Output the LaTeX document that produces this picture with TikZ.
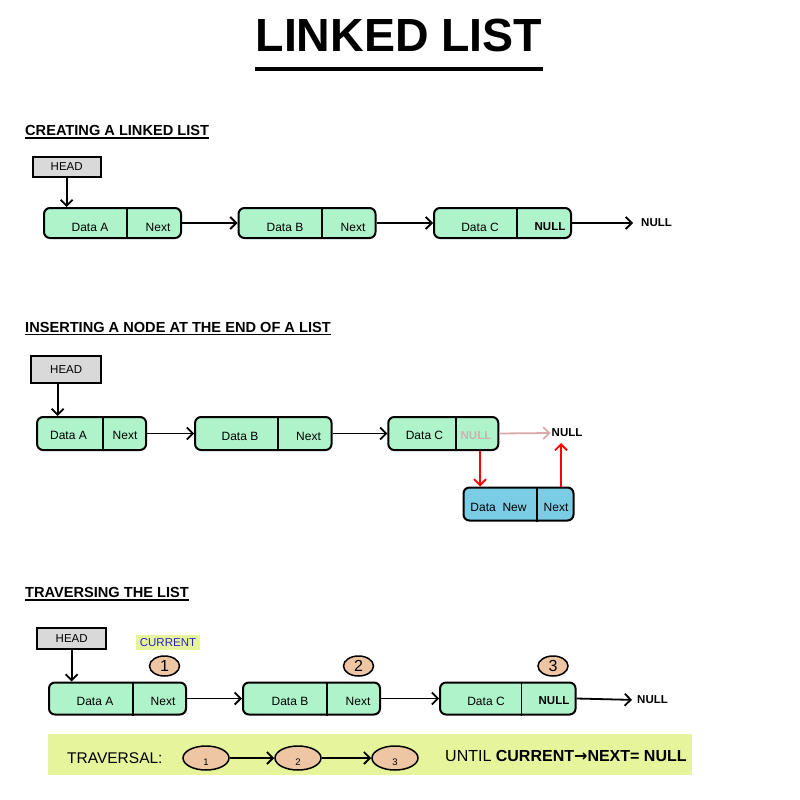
\documentclass[tikz,border=0pt]{standalone}
\usepackage{fontspec}
\setmainfont{Liberation Sans}
\newfontfamily\dejavu{DejaVu Sans}
\usetikzlibrary{arrows.meta,shapes.geometric}
\definecolor{mint}{HTML}{AEF3C9}
\definecolor{skyb}{HTML}{7BCDE6}
\definecolor{peach}{HTML}{EEC6A3}
\definecolor{lime}{HTML}{E6F59B}
\definecolor{headgray}{HTML}{D9D9D9}
\definecolor{pinkarr}{HTML}{D9AAAA}
\definecolor{pinktxt}{HTML}{CDB0B0}
\definecolor{curblue}{HTML}{2A22C8}
\begin{document}
\begin{tikzpicture}[x=1pt,y=-1pt,
  lbox/.style={draw=black, line width=2pt, rounded corners=6pt, inner sep=0pt, fill=mint},
  headbox/.style={draw=black, line width=2pt, fill=headgray, inner sep=0pt, font=\fontsize{11.5}{13}\selectfont},
  lbl/.style={font=\fontsize{12}{14}\selectfont, inner sep=0pt},
  nul/.style={font=\fontsize{11.5}{13}\selectfont\bfseries, inner sep=0pt},
  heading/.style={font=\fontsize{14.6}{16}\selectfont\bfseries, inner sep=0pt, anchor=base west},
  divline/.style={line width=1.7pt},
  arr/.style={line width=1.8pt, -{Straight Barb[length=6pt,width=12pt,line width=1.8pt]}},
  redarr/.style={arr, draw=red},
  pinkar/.style={arr, draw=pinkarr},
  ell/.style={ellipse, draw=black, line width=1.5pt, fill=peach, inner sep=0pt},
]
\useasboundingbox (0,0) rectangle (800,800);

% title
\node[inner sep=0pt, anchor=base] (title) at (399,52) {\fontsize{46.5}{50}\selectfont\bfseries LINKED LIST};
\draw[line width=3.5pt] (255,69) -- (543,69);

% ---------- section 1 ----------
\node[heading] (h1) at (25,135) {CREATING A LINKED LIST};
\draw[line width=1.3pt] ([yshift=-3pt]h1.base west) -- ([yshift=-3pt]h1.base east);

\node[headbox, minimum width=68pt, minimum height=20pt] (hd1) at (66.7,166.7) {HEAD};
\node[lbox, minimum width=137pt, minimum height=30pt] (A1) at (112.5,223) {};
\node[lbox, minimum width=137pt, minimum height=30pt] (B1) at (307,223) {};
\node[lbox, minimum width=137pt, minimum height=30pt] (C1) at (502.5,223) {};
\draw[divline] (A1.north -| 127,0) -- (A1.south -| 127,0);
\draw[divline] (B1.north -| 322,0) -- (B1.south -| 322,0);
\draw[divline] (C1.north -| 517,0) -- (C1.south -| 517,0);
\node[lbl] (a1d) at (90,227) {Data A};
\node[lbl] (a1n) at (158,227) {Next};
\node[lbl] (b1d) at (285,227) {Data B};
\node[lbl] (b1n) at (353,227) {Next};
\node[lbl] (c1d) at (480,227) {Data C};
\node[nul] (c1n) at (550,227) {NULL};
\node[nul, anchor=west] (n1) at (641,223) {NULL};
\draw[arr] (hd1.south) -- (hd1.south |- A1.north);
\draw[arr] (A1.east) -- (B1.west);
\draw[arr] (B1.east) -- (C1.west);
\draw[arr, shorten >=8pt] (C1.east) -- (n1.west);

% ---------- section 2 ----------
\node[heading] (h2) at (25,332) {INSERTING A NODE AT THE END OF A LIST};
\draw[line width=1.3pt] ([yshift=-2.5pt]h2.base west) -- ([yshift=-2.5pt]h2.base east);

\node[headbox, minimum width=70pt, minimum height=27pt] (hd2) at (66.2,369.5) {HEAD};
\node[lbox, minimum width=109pt, minimum height=33pt] (A2) at (91.6,433.5) {};
\node[lbox, minimum width=136.5pt, minimum height=33pt] (B2) at (263.3,433.5) {};
\node[lbox, minimum width=110pt, minimum height=33pt] (C2) at (443.3,433.5) {};
\node[lbox, fill=skyb, minimum width=110pt, minimum height=33pt] (DN) at (518.5,504) {};
\draw[divline] (A2.north -| 103.3,0) -- (A2.south -| 103.3,0);
\draw[divline] (B2.north -| 278.3,0) -- (B2.south -| 278.3,0);
\draw[divline] (C2.north -| 456,0) -- (C2.south -| 456,0);
\draw[divline] (DN.north -| 536.7,0) -- (DN.south -| 536.7,0);
\node[lbl] (a2d) at (68.5,435.5) {Data A};
\node[lbl] (a2n) at (125,435.5) {Next};
\node[lbl] (b2d) at (240,436.5) {Data B};
\node[lbl] (b2n) at (308.5,436.5) {Next};
\node[lbl] (c2d) at (424.5,435.5) {Data C};
\node[nul, text=pinktxt] (c2n) at (476,435.5) {NULL};
\node[lbl] (dnd) at (498.5,507) {Data\ \ New};
\node[lbl] (dnn) at (556,507) {Next};
\node[nul, anchor=west] (n2) at (551.5,433) {NULL};
\draw[arr] ([xshift=-8.5pt]hd2.south) -- ([xshift=-8.5pt]hd2.south |- A2.north);
\draw[arr] (A2.east) -- (B2.west);
\draw[arr] (B2.east) -- (C2.west);
\draw[pinkar, shorten >=1pt] (C2.east) -- (n2.west);
\draw[redarr] (C2.south -| 480,0) -- (DN.north -| 480,0);
\draw[redarr] (DN.north -| 561,0) -- (561,443);

% ---------- section 3 ----------
\node[heading] (h3) at (25,597) {TRAVERSING THE LIST};
\draw[line width=1.3pt] ([yshift=-3pt]h3.base west) -- ([yshift=-3pt]h3.base east);

\node[headbox, minimum width=68.5pt, minimum height=21pt] (hd3) at (71.7,638.5) {HEAD};
\node[fill=lime, minimum width=64pt, minimum height=15pt, inner sep=0pt, text=curblue, font=\fontsize{11.5}{13}\selectfont] (cur) at (168,642.5) {CURRENT};
\node[lbox, minimum width=137pt, minimum height=32pt] (A3) at (117.5,698.5) {};
\node[lbox, minimum width=137pt, minimum height=32pt] (B3) at (311.5,698.5) {};
\node[lbox, minimum width=135.5pt, minimum height=32pt] (C3) at (507.8,698.5) {};
\draw[divline] (A3.north -| 133,0) -- (A3.south -| 133,0);
\draw[divline] (B3.north -| 327,0) -- (B3.south -| 327,0);
\draw[divline] (C3.north -| 521.5,0) -- (C3.south -| 521.5,0);
\node[lbl] (a3d) at (95,701) {Data A};
\node[lbl] (a3n) at (163,701) {Next};
\node[lbl] (b3d) at (290,701) {Data B};
\node[lbl] (b3n) at (358,701) {Next};
\node[lbl] (c3d) at (486,701) {Data C};
\node[nul] (c3n) at (554,701) {NULL};
\node[nul, anchor=west] (n3) at (637,700) {NULL};
\node[ell, minimum width=30pt, minimum height=20pt, font=\fontsize{16}{16}\selectfont] (e1) at (164.5,666) {1};
\node[ell, minimum width=30pt, minimum height=20pt, font=\fontsize{16}{16}\selectfont] (e2) at (358.5,666) {2};
\node[ell, minimum width=30pt, minimum height=20pt, font=\fontsize{16}{16}\selectfont] (e3) at (553,666) {3};
\draw[arr] (hd3.south) -- (hd3.south |- A3.north);
\draw[arr] (A3.east) -- (B3.west);
\draw[arr] (B3.east) -- (C3.west);
\draw[arr, shorten >=5pt] (C3.east) -- (n3.west);

% banner
\node[fill=lime, minimum width=644pt, minimum height=41pt, inner sep=0pt] (banner) at (370,754.5) {};
\node[inner sep=0pt, anchor=west, font=\fontsize{15.5}{17}\selectfont] (trav) at (67,758) {TRAVERSAL:};
\node[ell, minimum width=46pt, minimum height=24pt] (b1) at (206,758) {};
\node[ell, minimum width=46pt, minimum height=24pt] (b2) at (298,758) {};
\node[ell, minimum width=46pt, minimum height=24pt] (b3) at (395,758) {};
\node[inner sep=0pt, font=\fontsize{9.5}{10}\selectfont] (b1t) at (206,762) {1};
\node[inner sep=0pt, font=\fontsize{9.5}{10}\selectfont] (b2t) at (298,762) {2};
\node[inner sep=0pt, font=\fontsize{9.5}{10}\selectfont] (b3t) at (395,762) {3};
\draw[arr] (b1.east) -- (b2.west);
\draw[arr] (b2.east) -- (b3.west);
\node[inner sep=0pt, anchor=west, font=\fontsize{16}{18}\selectfont] (until) at (445,756) {UNTIL \textbf{CURRENT{\dejavu→}NEXT= NULL}};
\end{tikzpicture}
\end{document}
